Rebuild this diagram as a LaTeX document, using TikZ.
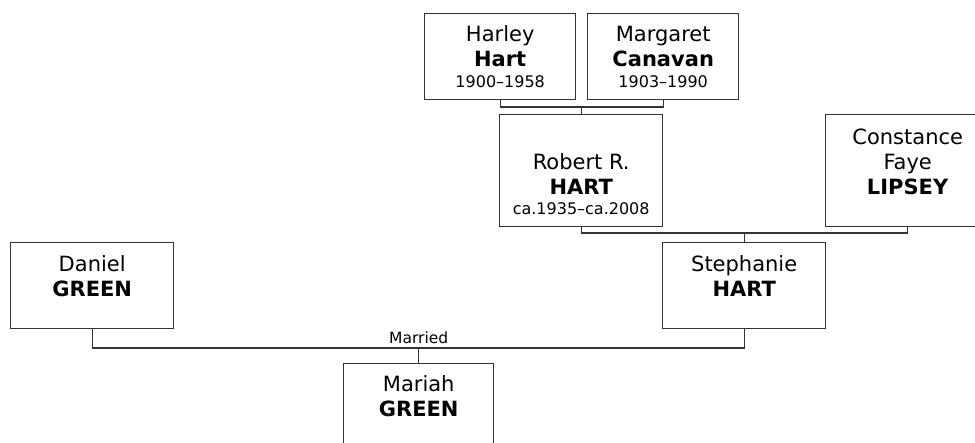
\documentclass[tikz,border=0pt]{standalone}
\usepackage{fontspec}
\setmainfont{DejaVu Sans}
\newcommand\dts[1]{{\fontsize{16}{19}\selectfont #1}}
\tikzset{
  pbox/.style={draw=black!80, line width=1.4pt, fill=white, inner sep=0pt, anchor=north west},
  ptext/.style={anchor=base, align=center, font=\fontsize{21}{25}\selectfont, inner sep=0pt},
  link/.style={draw=black!80, line width=1.4pt},
  lbl/.style={anchor=base, inner sep=0pt, font=\fontsize{15.5}{18}\selectfont},
}
\begin{document}
\begin{tikzpicture}[x=1pt,y=-1pt]
\useasboundingbox (0,0) rectangle (975,443);
\clip (0,0) rectangle (975,443);
% boxes
\node[pbox, minimum width=151pt, minimum height=86pt] (harley) at (424,13) {};
\node[pbox, minimum width=151pt, minimum height=86pt] (margaret) at (587,13) {};
\node[pbox, minimum width=163pt, minimum height=112pt] (robert) at (499,114) {};
\node[pbox, minimum width=164pt, minimum height=112pt] (constance) at (825,114) {};
\node[pbox, minimum width=163pt, minimum height=86pt] (stephanie) at (662,242) {};
\node[pbox, minimum width=163pt, minimum height=86pt] (daniel) at (10,242) {};
\node[pbox, minimum width=150pt, minimum height=90pt] (mariah) at (343,363) {};
% texts (base anchor = baseline of last line)
\node[ptext] (harleyT) at ([yshift=-75pt]harley.north) {Harley\\\textbf{Hart}\\[-4pt]\dts{1900–1958}};
\node[ptext] (margaretT) at ([yshift=-75pt]margaret.north) {Margaret\\\textbf{Canavan}\\[-4pt]\dts{1903–1990}};
\node[ptext] (robertT) at ([yshift=-101pt]robert.north) {Robert R.\\\textbf{HART}\\[-4.5pt]\dts{ca.1935–ca.2008}};
\node[ptext] (constanceT) at ([yshift=-81pt]constance.north) {Constance\\Faye\\\textbf{LIPSEY}};
\node[ptext] (stephanieT) at ([yshift=-55pt]stephanie.north) {Stephanie\\\textbf{HART}};
\node[ptext] (danielT) at ([yshift=-55pt]daniel.north) {Daniel\\\textbf{GREEN}};
\node[ptext] (mariahT) at ([yshift=-54pt]mariah.north) {Mariah\\\textbf{GREEN}};
% junctions
\coordinate (j1) at ([yshift=7pt]robert.north);
\coordinate (j2) at ([yshift=9pt]stephanie.north);
\coordinate (j3) at ([yshift=15pt]mariah.north);
\draw[link] (harley.south) |- (j1) -| (margaret.south);
\draw[link] (j1) -- (robert.north);
\draw[link] (robert.south) |- (j2) -| (constance.south);
\draw[link] (j2) -- (stephanie.north);
\draw[link] (daniel.south) |- (j3) -| (stephanie.south);
\draw[link] (j3) -- (mariah.north);
\node[lbl] (married) at ([yshift=4pt]j3) {Married};
\end{tikzpicture}
\end{document}
